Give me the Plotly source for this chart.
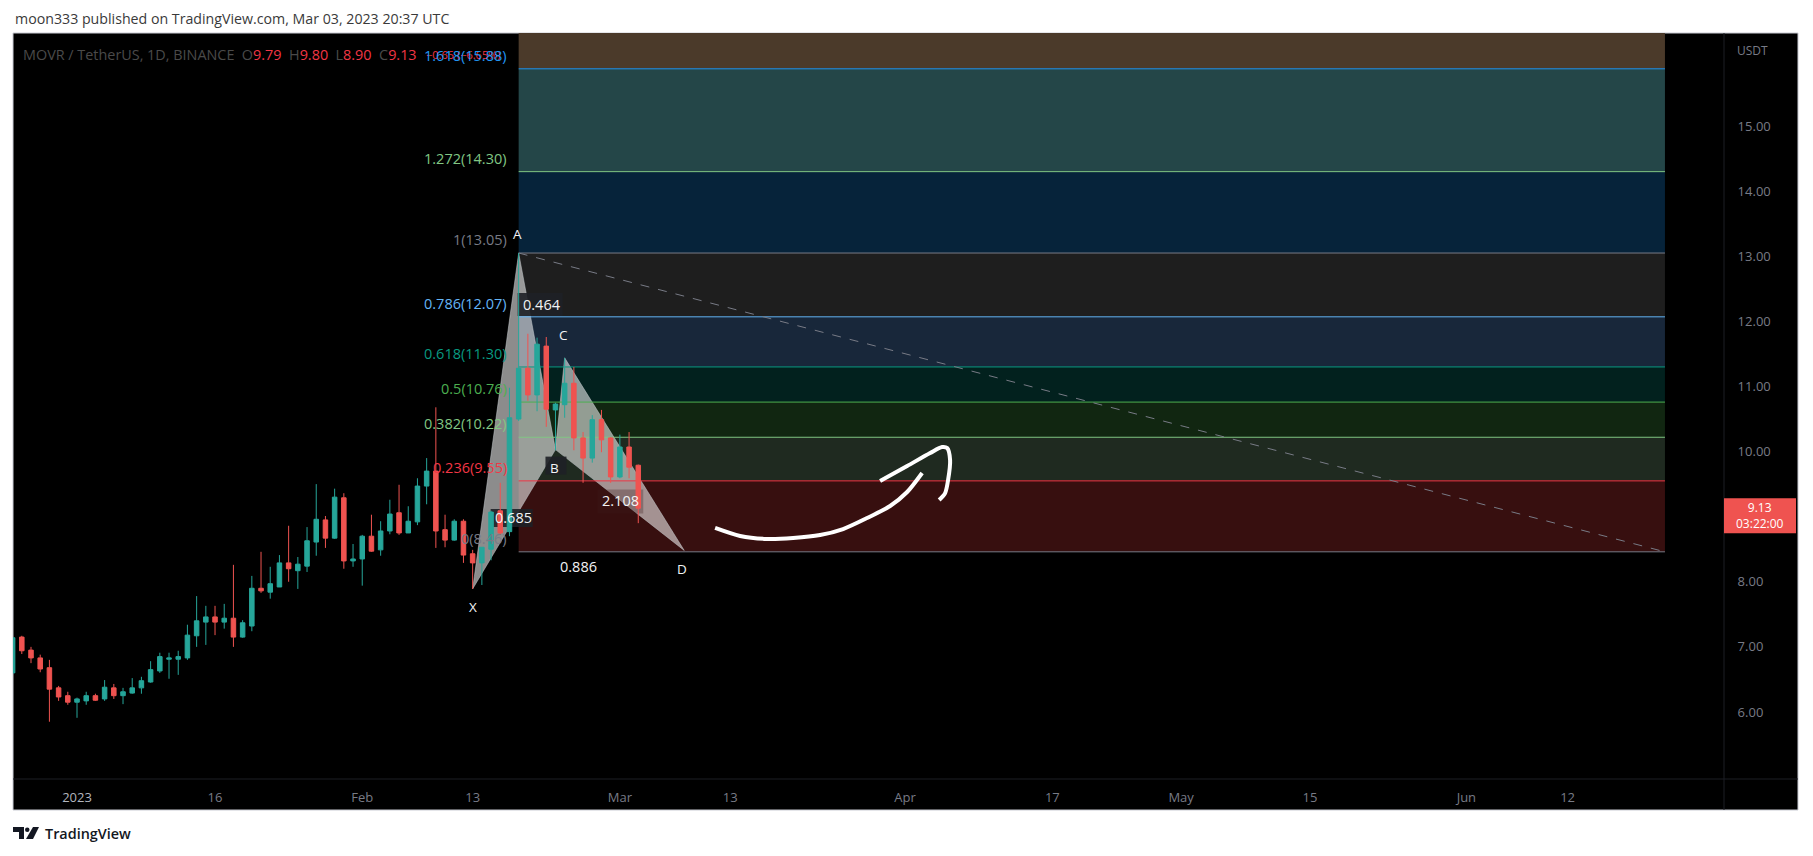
import pandas as pd
import plotly.graph_objects as go

DATES = pd.date_range("2022-12-25", "2023-03-03", freq="D")
OPEN = [6.60,7.15,6.95,6.83,6.68,6.37,6.25,
        6.15,6.17,6.25,6.20,6.37,6.25,6.29,6.37,6.46,6.63,6.81,6.81,6.83,7.17,7.38,7.46,7.38,7.44,7.15,7.32,7.90,7.84,7.92,8.29,8.17,8.24,8.61,8.95,8.67,9.29,8.32,
        8.35,8.70,8.49,8.78,9.06,8.75,8.92,9.47,9.70,8.80,8.64,8.93,8.43,8.29,8.50,9.09,8.77,10.50,11.28,10.87,11.62,10.64,10.72,11.05,10.21,9.90,10.49,10.21,
        9.61,10.07,9.79]
HIGH = [7.15,7.17,7.00,6.88,6.80,6.40,6.31,
        6.22,6.31,6.28,6.49,6.43,6.37,6.52,6.54,6.78,6.91,6.91,6.94,7.34,7.78,7.63,7.63,7.66,8.26,7.41,8.09,8.46,8.23,8.41,8.86,8.38,8.84,9.50,9.01,9.43,9.36,8.58,
        8.72,9.03,8.93,9.26,9.49,9.16,9.59,9.90,10.68,9.03,8.96,8.96,8.49,8.53,9.09,9.52,10.98,13.05,11.81,11.75,11.76,10.75,11.44,11.30,10.30,10.56,10.64,10.22,
        10.26,10.30,9.80]
LOW = [6.58,6.89,6.75,6.61,5.85,6.17,6.11,
       5.91,6.11,6.17,6.17,6.20,6.12,6.28,6.28,6.45,6.60,6.51,6.57,6.80,7.00,7.03,7.18,7.28,7.00,7.14,7.24,7.83,7.74,7.92,8.00,7.89,8.15,8.40,8.52,8.66,8.20,8.23,
       7.94,8.46,8.40,8.73,8.72,8.75,8.87,9.19,8.52,8.53,8.63,8.29,7.89,7.95,8.33,8.72,8.70,10.47,10.78,10.62,10.38,10.02,10.52,10.02,9.52,9.83,9.99,9.52,
       9.59,9.59,8.90]
CLOSE = [7.14,6.94,6.83,6.66,6.35,6.23,6.15,
         6.20,6.25,6.18,6.38,6.25,6.31,6.37,6.48,6.65,6.85,6.83,6.85,7.18,7.40,7.46,7.38,7.44,7.15,7.37,7.90,7.86,7.97,8.29,8.20,8.27,8.63,8.96,8.67,9.30,8.32,8.35,
         8.70,8.47,8.78,9.04,8.75,8.93,9.47,9.70,8.78,8.64,8.93,8.41,8.29,8.53,9.07,8.75,10.52,11.28,10.87,11.65,10.65,10.73,11.05,10.21,9.90,10.49,10.18,9.61,
         10.07,9.76,9.13]

FIB_RATIO = ["0", "0.236", "0.382", "0.5", "0.618", "0.786", "1", "1.272", "1.618"]
FIB_PRICE = [8.46, 9.55, 10.22, 10.76, 11.30, 12.07, 13.05, 14.30, 15.88]
FIB_TOP = 17.64
FIB_START = "2023-02-18"
FIB_END = "2023-06-22 14:00"
FIB_LINE = ["#787b86", "#f23645", "#81c784", "#4caf50", "#089981", "#64b5f6", "#787b86", "#81c784", "#2196f3"]
FIB_FILL = ["#370f0f", "#1f2a20", "#112611", "#02211e", "#18273a", "#1e1e1e", "#06233a", "#244648", "#4b3a2a"]

PATTERN_NAME = ["X", "A", "B", "C", "D"]
PATTERN_DATE = ["2023-02-13", "2023-02-18", "2023-02-22", "2023-02-23", "2023-03-08"]
PATTERN_PRICE = [7.89, 13.05, 10.03, 11.44, 8.48]

PEN1_DAY = [69.35, 72.07, 75.0, 77.83, 80.76, 83.26, 85.87, 88.37, 90.22, 91.85]
PEN1_PRICE = [8.826, 8.703, 8.657, 8.672, 8.718, 8.810, 8.979, 9.164, 9.379, 9.671]
PEN2_DAY = [87.28, 90.22, 92.72, 94.02, 94.57, 94.89, 94.67, 94.35, 93.70]
PEN2_PRICE = [9.548, 9.778, 9.978, 10.070, 10.055, 9.870, 9.563, 9.363, 9.256]

TICK_DATES = ["2023-01-01", "2023-01-16", "2023-02-01", "2023-02-13", "2023-03-01", "2023-03-13",
              "2023-04-01", "2023-04-17", "2023-05-01", "2023-05-15", "2023-06-01", "2023-06-12"]
TICK_TEXT = ['<span style="color:#b2b5be">2023</span>', "16", "Feb", "13", "Mar", "13", "Apr", "17", "May", "15", "Jun", "12"]
PRICE_TICKS = [6, 7, 8, 10, 11, 12, 13, 14, 15]

FONT = "Open Sans"
L, R, T, B = 13, 1724, 33, 779


def px(x):
    return (x - L) / (R - L)


def py(y):
    return (B - y) / (B - T)


def day(d):
    return pd.Timestamp("2023-01-01") + pd.Timedelta(days=d)


fig = go.Figure()
fig.add_trace(go.Candlestick(
    x=DATES, open=OPEN, high=HIGH, low=LOW, close=CLOSE,
    increasing=dict(line=dict(color="#26a69a", width=1), fillcolor="#26a69a"),
    decreasing=dict(line=dict(color="#ef5350", width=1), fillcolor="#ef5350"),
    whiskerwidth=0, showlegend=False, hoverinfo="skip"))
for xs, ys in ((PEN1_DAY, PEN1_PRICE), (PEN2_DAY, PEN2_PRICE)):
    fig.add_trace(go.Scatter(x=[day(d) for d in xs], y=ys, mode="lines",
                             line=dict(color="white", width=4, shape="spline", smoothing=0.8),
                             showlegend=False, hoverinfo="skip"))

shapes = []
# dark frame of the published image
shapes.append(dict(type="rect", xref="paper", yref="paper", x0=px(13), x1=px(1798), y0=py(810), y1=py(33),
                   fillcolor="#000000", line=dict(color="#c9cbd3", width=1), layer="below"))
# fib zones
tops = FIB_PRICE[1:] + [FIB_TOP]
for lo, hi, col in zip(FIB_PRICE, tops, FIB_FILL):
    shapes.append(dict(type="rect", xref="x", yref="y", x0=FIB_START, x1=FIB_END, y0=lo, y1=hi,
                       fillcolor=col, line=dict(width=0), layer="below"))
# harmonic pattern triangles
for tri in ((0, 1, 2), (2, 3, 4)):
    pts = [(PATTERN_DATE[i], PATTERN_PRICE[i]) for i in tri]
    path = "M " + " L ".join(f"{d},{p}" for d, p in pts) + " Z"
    shapes.append(dict(type="path", xref="x", yref="y", path=path,
                       fillcolor="rgba(255,255,255,0.55)", line=dict(color="rgba(200,205,210,0.5)", width=1),
                       layer="below"))
# label backgrounds, over the triangles and under the candles
for date, price, x0, x1, y0, y1, fill in (
        (PATTERN_DATE[1], PATTERN_PRICE[1], -1, 44, -63, -40, "rgba(30,32,38,0.9)"),
        (PATTERN_DATE[0], PATTERN_PRICE[0], 18, 60, 62, 80, "rgba(30,32,38,0.9)"),
        (PATTERN_DATE[2], PATTERN_PRICE[2], -10, 11, -25, -7, "rgba(30,32,38,0.9)"),
        (PATTERN_DATE[4], PATTERN_PRICE[4], -87, -41, 37, 61, "rgba(60,25,25,0.3)")):
    shapes.append(dict(type="rect", xref="x", yref="y", xsizemode="pixel", ysizemode="pixel",
                       xanchor=date, yanchor=price, x0=x0, x1=x1, y0=y0, y1=y1,
                       fillcolor=fill, line=dict(width=0), layer="below"))
# fib lines
for price, col in zip(FIB_PRICE, FIB_LINE):
    shapes.append(dict(type="line", xref="x", yref="y", x0=FIB_START, x1=FIB_END, y0=price, y1=price,
                       line=dict(color=col, width=1), layer="below"))
# diagonal trend line
shapes.append(dict(type="line", xref="x", yref="y", x0=FIB_START, x1=FIB_END, y0=FIB_PRICE[6], y1=FIB_PRICE[0],
                   line=dict(color="#787b86", width=1, dash="dash"), layer="below"))
# price tag
shapes.append(dict(type="rect", xref="paper", yref="y", ysizemode="pixel", yanchor=CLOSE[-1],
                   x0=1, x1=px(1796), y0=-25, y1=10, fillcolor="#ef5350", line=dict(width=0), layer="above"))
# scale borders
shapes.append(dict(type="line", xref="paper", yref="paper", x0=1, x1=1, y0=py(810), y1=1,
                   line=dict(color="#1c1e24", width=1), layer="below"))
shapes.append(dict(type="line", xref="paper", yref="paper", x0=0, x1=px(1798), y0=0, y1=0,
                   line=dict(color="#1c1e24", width=1), layer="below"))


# TradingView logo
def pth(points):
    return "M " + " L ".join(f"{px(x)},{py(y)}" for x, y in points) + " Z"


shapes.append(dict(type="path", xref="paper", yref="paper", path=pth([(13, 827), (24, 827), (24, 839), (19, 839), (19, 832), (13, 832)]),
                   fillcolor="#131722", line=dict(width=0)))
shapes.append(dict(type="circle", xref="paper", yref="paper", x0=px(25), x1=px(29.5), y0=py(832), y1=py(827.5),
                   fillcolor="#131722", line=dict(width=0)))
shapes.append(dict(type="path", xref="paper", yref="paper", path=pth([(33, 827), (39, 827), (33, 839), (26, 839)]),
                   fillcolor="#131722", line=dict(width=0)))

ann = []


def chrome(text, x, y, size, color, anchor="left", weight=None):
    ann.append(dict(text=text, xref="paper", yref="paper", x=px(x), y=py(y), xanchor=anchor, yanchor="middle",
                    showarrow=False, align="left", font=dict(family=FONT, size=size, color=color, weight=weight)))


chrome("moon333 published on TradingView.com, Mar 03, 2023 20:37 UTC", 13, 19, 14.2, "#3a3a3a")
G = "#4a4a4a"
V = "#f23645"
legend = (f'<span style="color:{G}">MOVR / TetherUS, 1D, BINANCE&nbsp;&nbsp;O</span><span style="color:{V}">{OPEN[-1]}</span>'
          f'<span style="color:{G}">&nbsp;&nbsp;H</span><span style="color:{V}">{HIGH[-1]:.2f}</span>'
          f'<span style="color:{G}">&nbsp;&nbsp;L</span><span style="color:{V}">{LOW[-1]:.2f}</span>'
          f'<span style="color:{G}">&nbsp;&nbsp;C</span><span style="color:{V}">{CLOSE[-1]}</span>')
chrome(legend, 21, 54, 14.4, G)
chrome("−0.65 (−6.65%)", 424, 54, 11, V)
chrome("USDT", 1735, 50, 12, "#787b86")
chrome("TradingView", 43, 833, 14.4, "#131722", weight=600)

for ratio, price, col in zip(FIB_RATIO, FIB_PRICE, FIB_LINE):
    ann.append(dict(text=f"{ratio}({price:.2f})", xref="x", yref="y", x=FIB_START, y=price, xanchor="right",
                    yanchor="bottom", xshift=-10, yshift=2, showarrow=False,
                    font=dict(family=FONT, size=14.5, color=col)))

for i, (dx, dy) in enumerate(((0, -18), (-1, 19), (-1, -18), (-1, 23), (-2, -18))):
    ann.append(dict(text=PATTERN_NAME[i], xref="x", yref="y", x=PATTERN_DATE[i], y=PATTERN_PRICE[i],
                    xshift=dx, yshift=dy, showarrow=False, font=dict(family=FONT, size=13.5, color="#f2f3f5")))
for text, i, dx, dy in (("0.464", 1, 23, -51), ("0.685", 0, 41, 71), ("2.108", 4, -64, 50), ("0.886", 4, -106, -16)):
    ann.append(dict(text=text, xref="x", yref="y", x=PATTERN_DATE[i], y=PATTERN_PRICE[i],
                    xshift=dx, yshift=dy, showarrow=False, font=dict(family=FONT, size=14.5, color="#f2f3f5")))

ann.append(dict(text=f"{CLOSE[-1]}<br>03:22:00", xref="paper", yref="y", x=px(1760), y=CLOSE[-1], xanchor="center",
                yanchor="middle", yshift=-7.5, showarrow=False, align="center",
                font=dict(family=FONT, size=12, color="white")))

fig.update_layout(
    width=1813, height=856, autosize=False,
    margin=dict(l=L, r=1813 - R, t=T, b=856 - B, pad=0),
    paper_bgcolor="white", plot_bgcolor="#000000",
    boxgap=0.3, showlegend=False, shapes=shapes, annotations=ann,
    font=dict(family=FONT, color="#787b86", size=12),
    xaxis=dict(type="date", range=[day(-6.957), day(179.0)], rangeslider=dict(visible=False),
               tickmode="array", tickvals=TICK_DATES, ticktext=TICK_TEXT, showgrid=False, zeroline=False,
               ticks="outside", ticklen=6, tickcolor="rgba(0,0,0,0)", tickfont=dict(color="#787b86", size=13)),
    yaxis=dict(range=[4.97, 16.43], side="right", tickmode="array", tickvals=PRICE_TICKS,
               tickformat=".2f", showgrid=False, zeroline=False, ticks="outside", ticklen=10,
               tickcolor="rgba(0,0,0,0)", tickfont=dict(color="#787b86", size=13)),
)
fig.write_html("out.html", config={"displayModeBar": False},
               post_script="document.body.style.margin='0';document.body.style.overflow='hidden';")
